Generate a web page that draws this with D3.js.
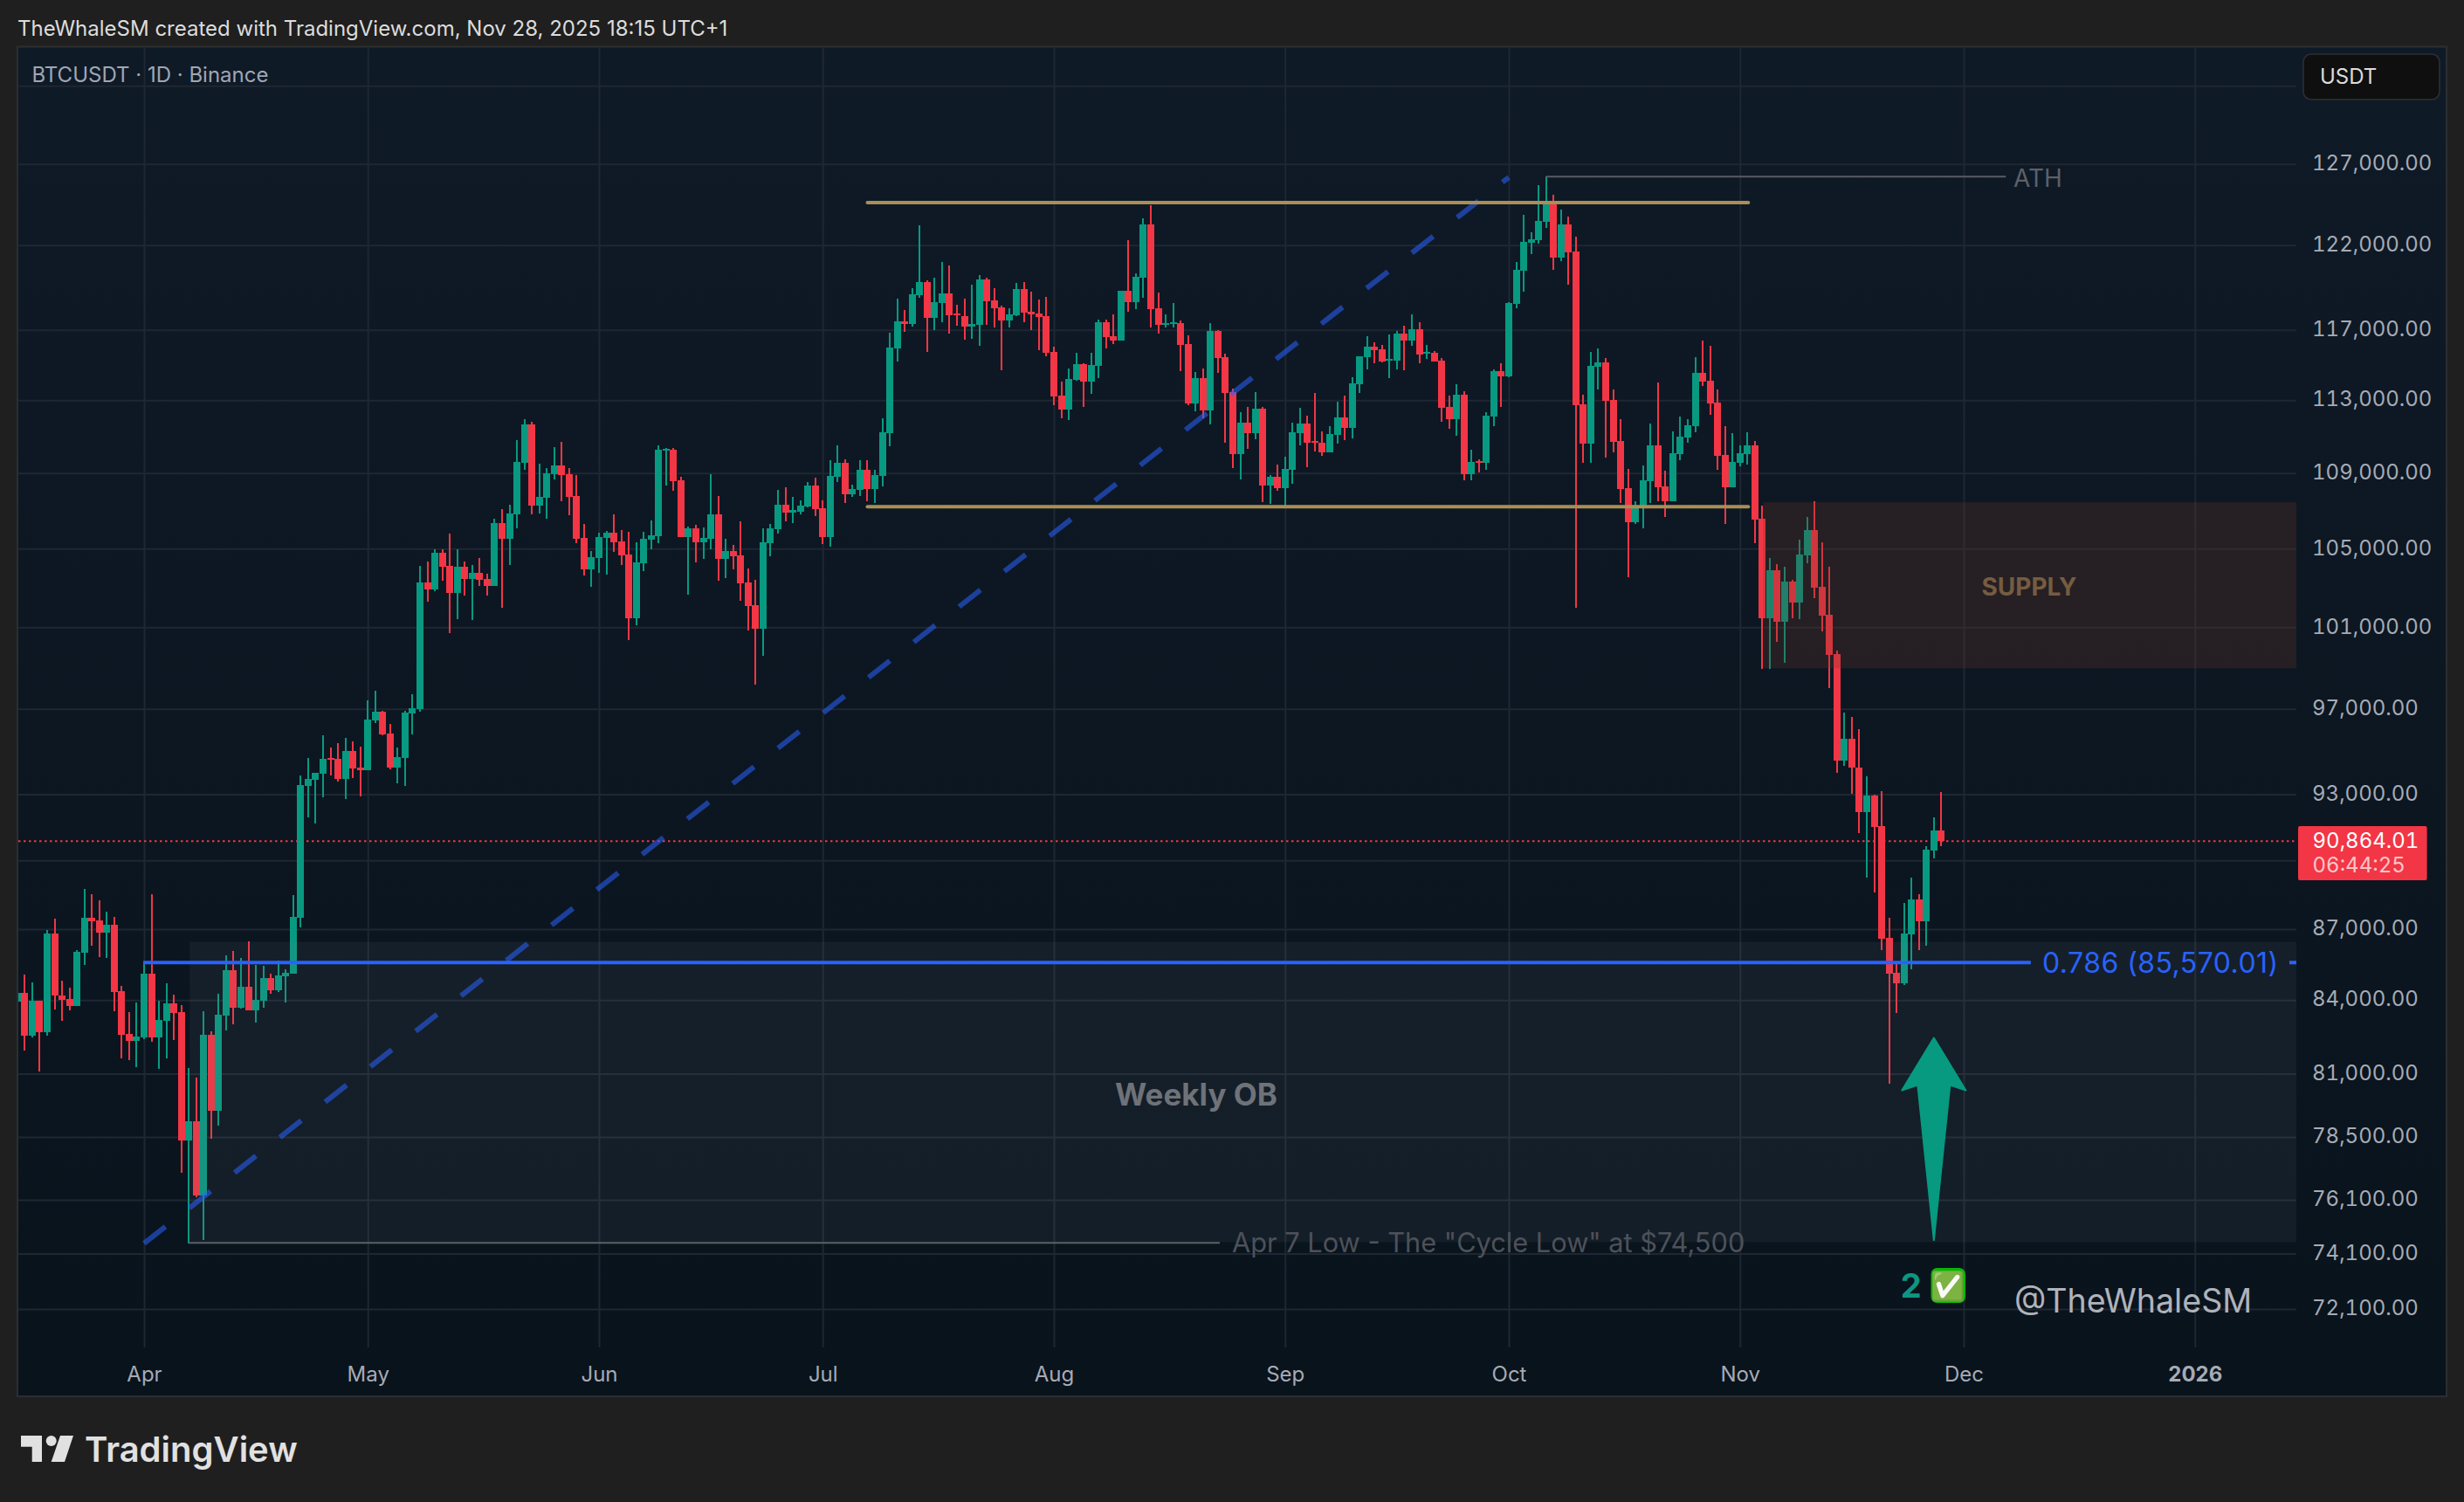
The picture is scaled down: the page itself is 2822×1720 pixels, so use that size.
<!DOCTYPE html>
<html><head><meta charset="utf-8">
<script src="https://cdn.jsdelivr.net/npm/d3@7/dist/d3.min.js"></script>
<style>
html,body{margin:0;padding:0;background:#1f1f1f;}
svg{display:block;}
text{font-family:Inter,"Noto Sans",sans-serif;}
.tn{font-variant-numeric:tabular-nums;font-feature-settings:"tnum" 1;}
</style></head><body>
<svg id="c" width="2822" height="1720"></svg>
<script>
const startDate = "2025-03-15";
const opens = [83924,84310,82522,83985,82665,86825,84200,84057,83767,86004,87468,87355,86862,87202,84383,82617,82333,
82474,85118,82474,83152,83876,83514,78378,79126,76272,82581,79537,83369,85265,83695,84567,83586,83985,84934,84419,85008,85118,
87471,93366,93675,93931,94665,94625,93689,94994,94214,94090,96440,96856,95820,94214,94665,96772,
96980,103252,102894,104780,104100,102715,104055,103420,103742,103420,103063,106330,105503,106787,109545,111645,107250,107690,108930,109404,108930,107767,105548,103920,104507,105548,105824,105368,104690,101437,104235,105458,105640,110208,110255,108600,105594,106053,105323,105503,106785,104462,104870,104644,103252,102090,100912,105277,106007,107296,106880,106955,107203,108320,107110,105594,108790,109545,107860,108085,109167,108130,108836,
111168,115920,117480,117330,119000,119793,117687,118557,119120,117940,117790,117175,117280,119950,118710,118297,117535,117840,119380,118040,117940,117790,
115720,113250,112470,114130,115020,114040,114950,117430,116620,116360,119275,118610,120050,123256,118245,117280,117330,117380,116170,112810,114230,112420,116930,115420,113450,110020,111750,111170,112520,108320,108790,
108180,109170,111168,111700,110730,110640,110110,111070,112030,111460,113890,115420,116020,115870,115220,115220,116770,116370,117025,115620,115670,115220,112610,111937,113295,108930,109640,109545,112085,114620,
114330,118500,120465,122160,122320,123415,124595,121250,123255,121610,112760,110590,114875,115120,113005,110730,108180,106370,107205,108555,110500,108275,107485,110020,110930,111550,114530,114090,112855,109970,108225,
109545,110020,110500,106555,101440,103875,101265,103296,102230,104645,105965,103025,101615,99660,94543,95570,94214,92165,92920,91530,86606,85120,84680,86755,88270,87320,90430,91330];
const highs = [84343,85081,84750,83985,86976,87430,84824,84530,86116,88722,88530,88261,87732,87505,84603,83514,83912,
85632,88492,83985,84713,84238,83804,81240,80852,83550,82724,84274,85893,86079,85780,86489,85485,85448,85118,85669,85302,88455,
93850,94665,93971,95736,95159,95362,95611,95445,95200,97400,97868,96900,96276,95159,96900,97700,
104100,104326,104960,104960,105778,104960,104326,104145,104507,103697,106560,107063,107296,110790,111935,111790,109498,109262,110400,110688,109262,108883,106283,104870,105824,105915,106785,105960,105870,105323,105870,106455,110495,110350,110350,108790,106145,106237,106100,108930,107767,105503,105187,106440,103965,103376,106053,106283,108085,108225,107720,107527,108507,108740,107527,109687,110495,109735,108367,109687,109687,109167,111990,
116830,118812,118147,119430,123200,119900,120050,120985,120777,118455,118812,119637,120220,120050,119430,118400,118245,119740,119793,119222,118760,118910,
116020,114035,114780,115670,115070,115670,117585,117585,117890,119275,122300,120315,123630,124431,119170,117890,118560,117535,116670,114580,114780,117380,116990,115620,113640,112320,112610,113450,112610,108880,109450,
109875,111750,112560,112130,113400,111270,111560,112910,113250,114280,115500,116620,116280,116120,116720,116925,117230,117890,117430,116120,115770,115370,113250,113890,113490,110255,109735,112325,114720,115100,
118600,120990,123840,122780,125670,126199,125080,124160,123735,122510,113300,115715,115920,115375,113590,111935,109215,107485,109400,111695,113990,109120,111260,112100,111935,115425,116370,116070,113590,111550,111165,
110500,111215,110730,107250,104500,104190,104060,103385,105460,106650,107480,105320,104060,99833,96814,96600,96020,93810,92960,93120,87471,85490,88115,89226,88500,90630,91925,93090];
const lows = [83900,81942,82450,81100,82522,83622,83152,83586,83767,85485,86303,85818,85780,83550,81626,81555,81273,
82403,82298,81202,81626,82369,77134,74482,76207,74611,78445,78955,82760,83010,83659,83586,83081,83695,84274,84347,83912,85118,
87058,91925,91647,92842,93850,93568,92760,93729,92880,94090,96320,95750,94130,93500,93366,95778,
96855,102273,102805,103331,100696,101394,102580,101350,103063,102580,103063,101965,104145,106053,109167,106785,106833,106560,108648,107482,106740,105277,103606,103018,103742,103652,104825,104145,100340,101086,103830,104960,105277,108320,108040,105594,102626,104280,104462,104960,103331,103466,103920,102313,100825,98160,99568,104598,105778,106440,106330,106785,107157,106700,105232,105090,108507,107390,107720,107767,107482,107390,108290,
110450,115175,116880,117175,118860,115720,116990,117430,116777,117225,116425,116480,116070,117280,117110,114675,117125,117790,117433,116960,115820,115500,
112715,111990,111890,114090,112615,113350,114230,115920,116190,116360,118040,118200,118864,117123,116777,117125,117125,114630,112715,112370,111990,111650,114530,110640,109260,108640,110310,110830,107430,107340,108030,
107250,108400,110510,109310,110160,109920,110110,110590,110810,110880,113400,114720,115070,115120,114260,114720,114690,116070,115070,115320,115170,111790,111410,111025,108600,108600,109025,109170,111570,112610,
114280,118240,119225,121460,122090,123040,120520,121050,119635,101965,109543,109543,113590,109830,110115,107390,103517,106280,106055,107390,107470,106650,107485,109685,110640,111215,113790,112180,109165,106280,108225,
109355,109450,105280,98930,98930,100265,99230,101440,101395,104245,102450,100785,97990,93971,94310,93010,91215,89226,88574,86082,80579,83480,84640,85270,86082,86270,90075,90630];
const closes = [84310,82522,83985,82665,86825,84178,84021,83767,86041,87468,87317,86862,87202,84347,82581,82333,82510,
85118,82474,83188,83876,83478,78378,79126,76272,82581,79537,83405,85265,83695,84567,83586,84021,84934,84419,85045,85155,87505,
93406,93689,93971,94625,94584,93689,94994,94173,94090,96480,96856,95778,94214,94707,96814,97025,
103252,102894,104780,104055,102715,104055,103420,103742,103375,103063,106330,105503,106833,109593,111645,107250,107720,108978,109404,108883,107720,105503,103920,104553,105594,105824,105323,104644,101437,104280,105503,105685,110255,110302,108553,105594,106053,105323,105548,106785,104462,104870,104598,103205,102045,100912,105323,106053,107296,106880,107017,107250,108320,107063,105594,108836,109545,107860,108130,109167,108130,108883,111225,
115970,117480,117330,119070,119793,117687,118608,119120,117840,117840,117175,117330,119950,118660,118245,117535,117890,119380,117990,117890,117720,115670,
113200,112470,114180,115020,114040,114970,117430,116570,116360,119275,118610,120100,123256,118200,117280,117380,117433,116120,112810,114230,112420,116930,115370,113400,110020,111750,111170,112520,108320,108790,108180,
109215,111216,111700,110640,110640,110110,111120,112030,111460,113940,115470,116020,115820,115170,115320,116770,116370,117025,115570,115720,115170,112560,111937,113295,108930,109590,109545,112130,114620,114330,
118550,120520,122195,122350,123470,124595,121250,123255,121560,112715,110590,114925,115120,112955,110680,108132,106370,107205,108600,110500,108225,107485,110065,110975,111600,114530,114040,112810,109925,108225,109590,
110065,110500,106510,101440,103875,101265,103296,102230,104690,105965,102980,101570,99610,94543,95570,94214,92165,92920,91490,86568,85084,84680,86795,88270,87320,90470,91330,90864.01];

const priceTicks = [127000,122000,117000,113000,109000,105000,101000,97000,93000,87000,84000,81000,78500,76100,74100,72100];
const hiddenGridPrices = [132000,90000];
const monthTicks = ["2025-04-01","2025-05-01","2025-06-01","2025-07-01","2025-08-01","2025-09-01","2025-10-01","2025-11-01","2025-12-01","2026-01-01"];
const lastPrice = 90864.01, fibPrice = 85570.01, cycleLow = 74500, athPrice = 126199;
const channelTop = 124600, channelBottom = 107200;
const obTop = 86450, obBottom = 74520, supplyTop = 107440, supplyBottom = 98970;
const trendStart = ["2025-04-01", 74480], trendEnd = ["2025-10-01", 126160];

const W=2822,H=1720,pL=21,pR=2630,pT=54,pB=1543,panelR=2802,panelB=1599;
const UP="#089981",DOWN="#f23645";
const parse=d3.utcParse("%Y-%m-%d");
const x=d3.scaleUtc().domain([parse("2025-04-01"),parse("2025-12-01")]).range([165,2249]);
const y=d3.scaleLog().domain([127000,72100]).range([187.7,1499]);
const dates=opens.map((_,i)=>d3.utcDay.offset(parse(startDate),i));
const svg=d3.select("#c");
const defs=svg.append("defs");
const g0=defs.append("linearGradient").attr("id","bg").attr("x1",0).attr("x2",0).attr("y1",0).attr("y2",1);
g0.append("stop").attr("offset","0").attr("stop-color","#0f1a27");
g0.append("stop").attr("offset","1").attr("stop-color","#09131c");
defs.append("clipPath").attr("id","plot").append("rect").attr("x",pL).attr("y",pT).attr("width",pR-pL).attr("height",pB-pT);

svg.append("rect").attr("width",W).attr("height",H).attr("fill","#1f1f1f");
svg.append("rect").attr("x",20).attr("y",53.5).attr("width",panelR-20).attr("height",panelB-53.5).attr("fill","url(#bg)").attr("stroke","#2c2e31").attr("stroke-width",2);

// grid
const gridColor="#1e2732";
const gy=svg.append("g").attr("transform",`translate(${pL},0)`)
  .call(d3.axisRight(y).tickValues(priceTicks.concat(hiddenGridPrices)).tickSize(pR-pL).tickFormat(""));
gy.select(".domain").remove();
gy.selectAll("line").attr("stroke",gridColor).attr("stroke-width",2);
const gx=svg.append("g").attr("transform",`translate(0,${pB})`)
  .call(d3.axisTop(x).tickValues(monthTicks.map(parse)).tickSize(pB-pT).tickFormat(""));
gx.select(".domain").remove();
gx.selectAll("line").attr("stroke",gridColor).attr("stroke-width",2);

const plot=svg.append("g").attr("clip-path","url(#plot)");
// last price line
plot.append("line").attr("x1",pL).attr("x2",pR).attr("y1",y(lastPrice)).attr("y2",y(lastPrice))
  .attr("stroke",DOWN).attr("stroke-width",2).attr("stroke-dasharray","2.5 3.5");

// candles
const idx=d3.range(opens.length);
plot.append("g").attr("shape-rendering","crispEdges").selectAll("rect").data(idx).join("rect")
  .attr("x",i=>x(dates[i])-1).attr("width",2)
  .attr("y",i=>y(highs[i])).attr("height",i=>Math.max(1,y(lows[i])-y(highs[i])))
  .attr("fill",i=>closes[i]>=opens[i]?UP:DOWN);
plot.append("g").attr("shape-rendering","crispEdges").selectAll("rect").data(idx).join("rect")
  .attr("x",i=>x(dates[i])-4).attr("width",8)
  .attr("y",i=>y(Math.max(opens[i],closes[i])))
  .attr("height",i=>Math.max(2,Math.abs(y(opens[i])-y(closes[i]))))
  .attr("fill",i=>closes[i]>=opens[i]?UP:DOWN);

// zones
plot.append("rect").attr("x",x(parse("2025-04-07"))+1).attr("width",pR-x(parse("2025-04-07"))-1)
  .attr("y",y(obTop)).attr("height",y(obBottom)-y(obTop)).attr("fill","rgb(120,123,134)").attr("fill-opacity",.1);
plot.append("rect").attr("x",x(parse("2025-11-04"))+1).attr("width",pR-x(parse("2025-11-04"))-1)
  .attr("y",y(supplyTop)).attr("height",y(supplyBottom)-y(supplyTop)).attr("fill","rgb(113,55,39)").attr("fill-opacity",.26);

// trend
plot.append("line").attr("x1",x(parse(trendStart[0]))).attr("y1",y(trendStart[1]))
  .attr("x2",x(parse(trendEnd[0]))).attr("y2",y(trendEnd[1]))
  .attr("stroke","#2962ff").attr("stroke-opacity",.55).attr("stroke-width",6).attr("stroke-dasharray","31 34.8");
// fib
plot.append("line").attr("x1",x(parse("2025-04-01"))-1).attr("x2",x(parse("2025-12-10"))).attr("y1",y(fibPrice)).attr("y2",y(fibPrice))
  .attr("stroke","#2962ff").attr("stroke-width",4);
plot.append("line").attr("x1",2622).attr("x2",pR).attr("y1",y(fibPrice)).attr("y2",y(fibPrice))
  .attr("stroke","#2962ff").attr("stroke-width",4);
svg.append("text").attr("x",2339).attr("y",y(fibPrice)).attr("dy",".36em").attr("fill","#2962ff").attr("font-size",32).attr("letter-spacing",.45).text("0.786 (85,570.01)");
// channel
[channelTop,channelBottom].forEach(p=>{
 plot.append("line").attr("x1",x(parse("2025-07-07"))).attr("x2",x(parse("2025-11-02"))+1).attr("y1",y(p)).attr("y2",y(p))
  .attr("stroke","#a98f56").attr("stroke-width",4).attr("stroke-linecap","round");
});
// ATH and low
plot.append("line").attr("x1",x(parse("2025-10-06"))).attr("x2",x(parse("2025-12-07"))-3).attr("y1",y(athPrice)).attr("y2",y(athPrice))
  .attr("stroke","#585c66").attr("stroke-width",2);
svg.append("text").attr("x",2306).attr("y",y(athPrice)+1.5).attr("dy",".36em").attr("fill","#5d6068").attr("font-size",28).text("ATH");
plot.append("line").attr("x1",x(parse("2025-04-07"))).attr("x2",1397).attr("y1",y(cycleLow)).attr("y2",y(cycleLow))
  .attr("stroke","#5c606a").attr("stroke-width",2);
svg.append("text").attr("x",1411).attr("y",y(cycleLow)).attr("dy",".36em").attr("fill","#4d5159").attr("font-size",30.75).text('Apr 7 Low - The "Cycle Low" at $74,500');

svg.append("text").attr("x",1370).attr("y",1253).attr("dy",".36em").attr("text-anchor","middle").attr("fill","#6e7279").attr("font-weight",700).attr("font-size",35).text("Weekly OB");
svg.append("text").attr("x",2324).attr("y",672).attr("dy",".36em").attr("text-anchor","middle").attr("fill","#755c41").attr("font-weight",700).attr("font-size",28).text("SUPPLY");

// arrow
const ax=x(parse("2025-11-27")), tip=y(82440), tail=y(74600);
const arrow=d3.path();
arrow.moveTo(ax,tip);
arrow.lineTo(ax+36.5,tip+60);arrow.lineTo(ax+18.5,tip+54);arrow.lineTo(ax,tail);arrow.lineTo(ax-18.5,tip+54);arrow.lineTo(ax-36.5,tip+60);arrow.closePath();
svg.append("path").attr("d",arrow.toString()).attr("fill","#079a80").attr("stroke","#079a80").attr("stroke-width",2).attr("stroke-linejoin","round");

svg.append("text").attr("x",2188.6).attr("y",1472).attr("dy",".36em").attr("text-anchor","middle").attr("fill","#0e9682").attr("font-weight",700).attr("font-size",38).text("2");
svg.append("rect").attr("x",2211.5).attr("y",1452).attr("width",39.5).attr("height",40).attr("rx",7).attr("fill","#05b805");
svg.append("text").attr("x",2231).attr("y",1472).attr("dy",".36em").attr("text-anchor","middle").attr("fill","#fff").attr("font-size",32).attr("font-family","DejaVu Sans").text("✅");
svg.append("text").attr("x",2307).attr("y",1489).attr("dy",".36em").attr("fill","#b0b3ba").attr("font-size",37.6).text("@TheWhaleSM");

// axes
const ay=svg.append("g").attr("transform",`translate(${pR},0)`)
  .call(d3.axisRight(y).tickValues(priceTicks).tickSize(0).tickPadding(18).tickFormat(d3.format(",.2f")));
ay.select(".domain").remove();
ay.selectAll("text").attr("class","tn").attr("fill","#a6abb5").attr("font-size",24).attr("font-family","Inter").attr("dy",".28em");
const ax2=svg.append("g").attr("transform",`translate(0,${pB})`)
  .call(d3.axisBottom(x).tickValues(monthTicks.map(parse)).tickSize(0).tickPadding(22)
   .tickFormat(d=>d.getUTCMonth()===0?d3.utcFormat("%Y")(d):d3.utcFormat("%b")(d)));
ax2.select(".domain").remove();
ax2.selectAll("text").attr("fill","#a6abb5").attr("font-size",24).attr("font-family","Inter")
  .attr("font-weight",d=>d.getUTCMonth()===0?700:400);

// last price tag
svg.append("rect").attr("x",2632).attr("y",946).attr("width",147.6).attr("height",62).attr("rx",2).attr("fill",DOWN);
svg.append("text").attr("class","tn").attr("x",2648.5).attr("y",962).attr("dy",".36em").attr("fill","#fff").attr("font-size",24).text("90,864.01");
svg.append("text").attr("class","tn").attr("x",2648.5).attr("y",990).attr("dy",".36em").attr("fill","#fff").attr("fill-opacity",.72).attr("font-size",24).text("06:44:25");

// header
svg.append("text").attr("x",20).attr("y",32).attr("dy",".36em").attr("fill","#dcdcdc").attr("font-size",24).text("TheWhaleSM created with TradingView.com, Nov 28, 2025 18:15 UTC+1");
svg.append("text").attr("x",36.5).attr("y",85.5).attr("dy",".36em").attr("fill","#a0a6b3").attr("font-size",24).text("BTCUSDT · 1D · Binance");
svg.append("rect").attr("x",2638).attr("y",62).attr("width",156).attr("height",52).attr("rx",9).attr("fill","#0f0f0f").attr("stroke","#2e3034").attr("stroke-width",1.5);
svg.append("text").attr("x",2657).attr("y",87.5).attr("dy",".36em").attr("fill","#dcdcdc").attr("font-size",24).text("USDT");

// logo
const lg=svg.append("g").attr("fill","#e1e1e1");
lg.append("path").attr("d","M24 1644H48V1674H36.7V1656.7H24Z");
lg.append("circle").attr("cx",58.7).attr("cy",1650).attr("r",6);
lg.append("path").attr("d","M69 1644H84L74 1674H58.7Z");
svg.append("text").attr("x",97).attr("y",1674).attr("fill","#e1e1e1").attr("font-size",40).attr("font-weight",600).attr("letter-spacing",0).text("TradingView");
</script>
</body></html>
